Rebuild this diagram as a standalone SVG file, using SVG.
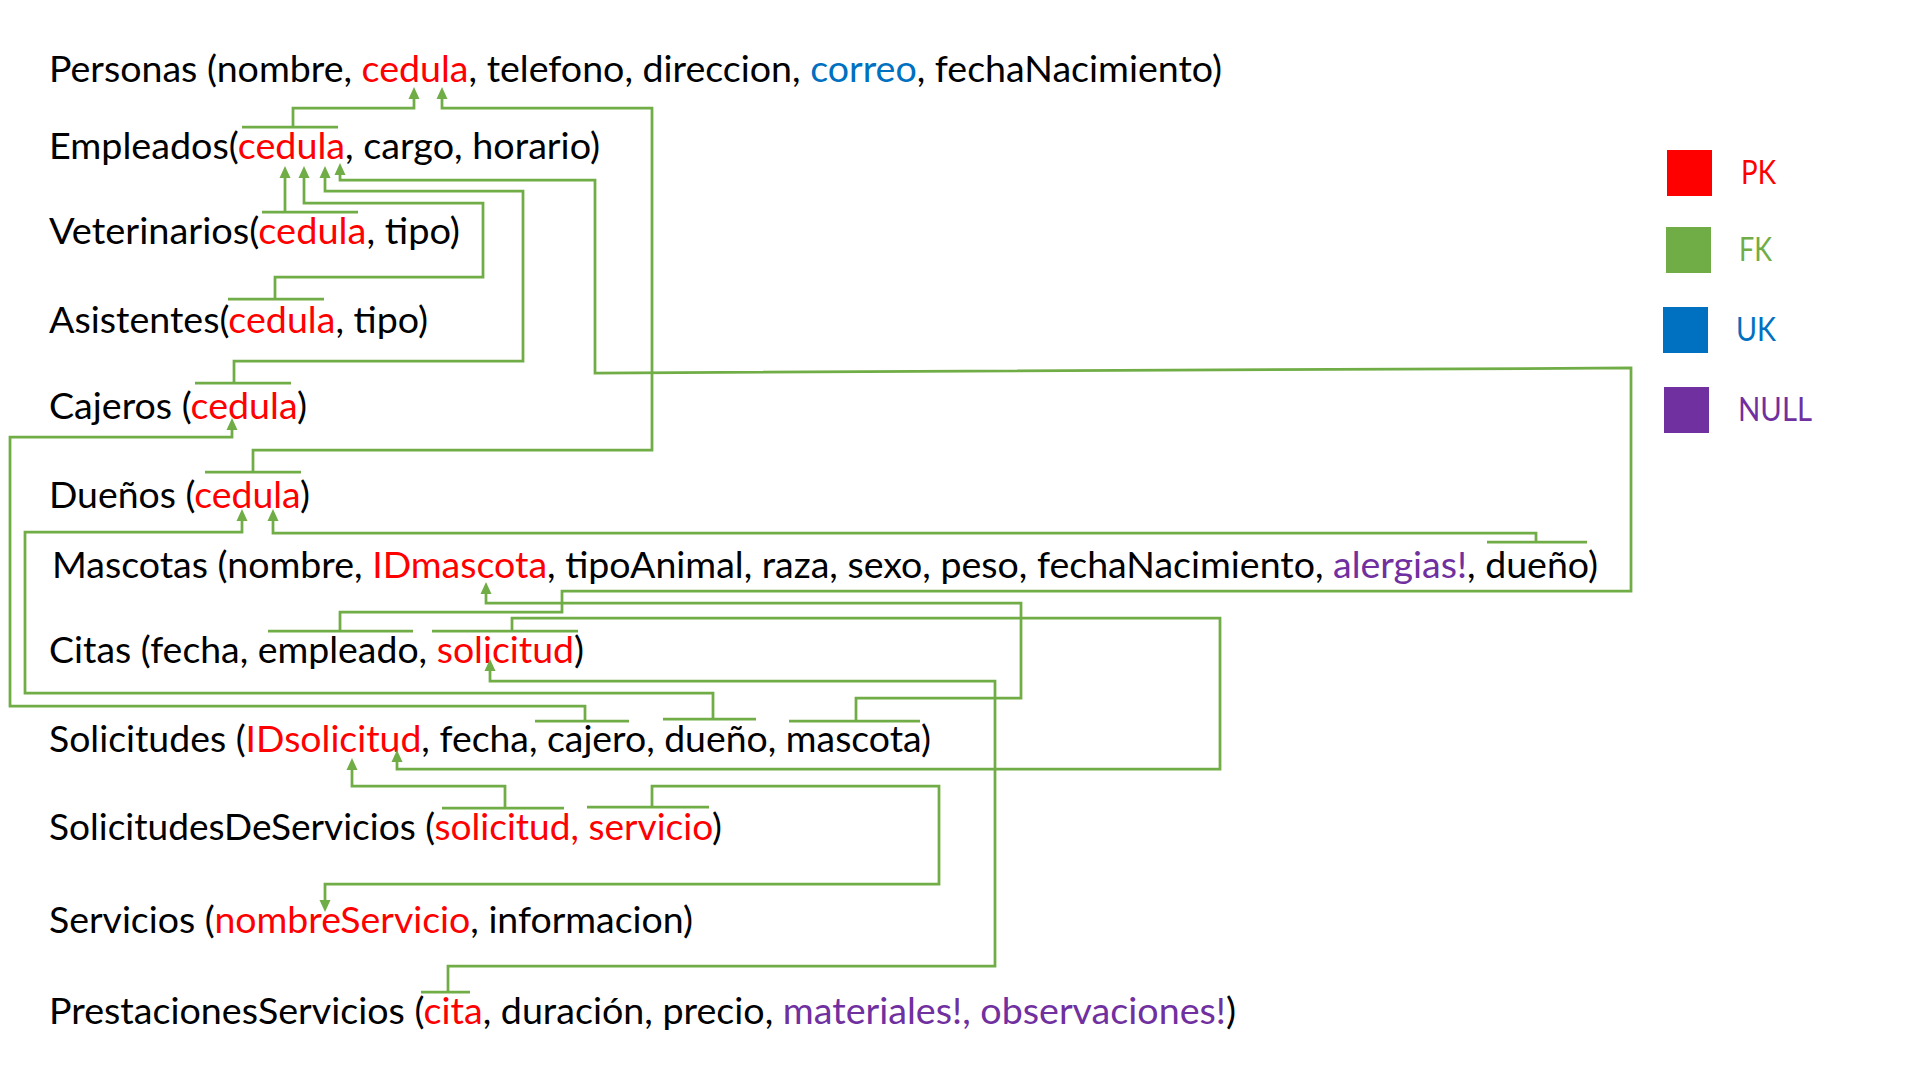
<svg xmlns="http://www.w3.org/2000/svg" width="1920" height="1080" viewBox="0 0 1920 1080">
<style>
.t{font-family:Lato,"Liberation Sans",sans-serif;font-size:36px;fill:#000000}
.pk{fill:#FF0000}
.uk{fill:#0070C0}
.nl{fill:#7030A0}
.fk{fill:#70AD47}
.lg{font-family:Lato,"Liberation Sans",sans-serif;font-size:32px}
.ln{stroke:#70AD47;stroke-width:2.75;fill:none}
.ar{marker-end:url(#ah)}
</style>
<defs>
<marker id="ah" markerUnits="userSpaceOnUse" markerWidth="12" markerHeight="11" refX="0" refY="5.5" orient="auto" overflow="visible"><path d="M0,0 L12,5.5 L0,11 z" fill="#70AD47"/></marker>
</defs>
<rect width="1920" height="1080" fill="#FFFFFF"/>
<g id="personas"><text class="t" x="49" y="82" textLength="1173" lengthAdjust="spacingAndGlyphs">Personas (nombre, <tspan class="pk">cedula</tspan>, telefono, direccion, <tspan class="uk">correo</tspan>, fechaNacimiento)</text></g>
<g id="empleados"><text class="t" x="49" y="159" textLength="551" lengthAdjust="spacingAndGlyphs">Empleados(<tspan class="pk">cedula</tspan>, cargo, horario)</text></g>
<g id="veterinarios"><text class="t" x="49" y="244" textLength="411" lengthAdjust="spacingAndGlyphs">Veterinarios(<tspan class="pk">cedula</tspan>, tipo)</text></g>
<g id="asistentes"><text class="t" x="49" y="333" textLength="379" lengthAdjust="spacingAndGlyphs">Asistentes(<tspan class="pk">cedula</tspan>, tipo)</text></g>
<g id="cajeros"><text class="t" x="49" y="419" textLength="258" lengthAdjust="spacingAndGlyphs">Cajeros (<tspan class="pk">cedula</tspan>)</text></g>
<g id="duenos"><text class="t" x="49" y="508" textLength="261" lengthAdjust="spacingAndGlyphs">Dueños (<tspan class="pk">cedula</tspan>)</text></g>
<g id="mascotas"><text class="t" x="52" y="578" textLength="1546" lengthAdjust="spacingAndGlyphs">Mascotas (nombre, <tspan class="pk">IDmascota</tspan>, tipoAnimal, raza, sexo, peso, fechaNacimiento, <tspan class="nl">alergias!</tspan>, dueño)</text></g>
<g id="citas"><text class="t" x="49" y="663" textLength="535" lengthAdjust="spacingAndGlyphs">Citas (fecha, empleado, <tspan class="pk">solicitud</tspan>)</text></g>
<g id="solicitudes"><text class="t" x="49" y="752" textLength="882" lengthAdjust="spacingAndGlyphs">Solicitudes (<tspan class="pk">IDsolicitud</tspan>, fecha, cajero, dueño, mascota)</text></g>
<g id="solicitudesDeServicios"><text class="t" x="49" y="840" textLength="673" lengthAdjust="spacingAndGlyphs">SolicitudesDeServicios (<tspan class="pk">solicitud, servicio</tspan>)</text></g>
<g id="servicios"><text class="t" x="49" y="933" textLength="644" lengthAdjust="spacingAndGlyphs">Servicios (<tspan class="pk">nombreServicio</tspan>, informacion)</text></g>
<g id="prestacionesServicios"><text class="t" x="49" y="1024" textLength="1187" lengthAdjust="spacingAndGlyphs">PrestacionesServicios (<tspan class="pk">cita</tspan>, duración, precio, <tspan class="nl">materiales!, observaciones!</tspan>)</text></g>
<g id="connectors">
<path class="ln" d="M242,127 H338"/>
<path class="ln ar" d="M293,127 V108 H414 V99"/>
<path class="ln" d="M205,472 H301"/>
<path class="ln ar" d="M253,472 V450 H652 V108 H442 V99"/>
<path class="ln" d="M262,212 H358"/>
<path class="ln ar" d="M285,212 V178"/>
<path class="ln" d="M228,299 H324"/>
<path class="ln ar" d="M275,299 V277 H483 V203 H304 V178"/>
<path class="ln" d="M195,383 H291"/>
<path class="ln ar" d="M234,383 V361 H523 V191 H325 V178"/>
<path class="ln" d="M268,631 H413"/>
<path class="ln ar" d="M340,631 V612 H562 V591 H1631 V368 L595,373 V180 H340 V175"/>
<path class="ln" d="M535,721 H629"/>
<path class="ln ar" d="M585,721 V706 H10 V437 H232 V430"/>
<path class="ln" d="M663,719 H756"/>
<path class="ln ar" d="M713,719 V693 H25 V532 H242 V521"/>
<path class="ln" d="M1487,542 H1587"/>
<path class="ln ar" d="M1536,542 V533 H273 V521"/>
<path class="ln" d="M789,721 H920"/>
<path class="ln ar" d="M856,721 V698 H1021 V603 H486 V594"/>
<path class="ln" d="M432,631 H578"/>
<path class="ln ar" d="M512,631 V618 H1220 V769 H397 V762"/>
<path class="ln" d="M421,992 H470"/>
<path class="ln ar" d="M448,992 V966 H995 V681 H490 V671"/>
<path class="ln" d="M442,808 H564"/>
<path class="ln ar" d="M505,808 V786 H352 V770"/>
<path class="ln" d="M587,807 H709"/>
<path class="ln ar" d="M652,807 V786 H939 V884 H325 V900"/>
</g>
<g id="legend">
<rect x="1667" y="150" width="45" height="46" fill="#FF0000"/>
<text class="lg pk" x="1741" y="184" textLength="35" lengthAdjust="spacingAndGlyphs">PK</text>
<rect x="1666" y="227" width="45" height="46" fill="#70AD47"/>
<text class="lg fk" x="1739" y="261" textLength="33" lengthAdjust="spacingAndGlyphs">FK</text>
<rect x="1663" y="307" width="45" height="46" fill="#0070C0"/>
<text class="lg uk" x="1736" y="341" textLength="40" lengthAdjust="spacingAndGlyphs">UK</text>
<rect x="1664" y="387" width="45" height="46" fill="#7030A0"/>
<text class="lg nl" x="1738" y="421" textLength="74" lengthAdjust="spacingAndGlyphs">NULL</text>
</g>
</svg>
